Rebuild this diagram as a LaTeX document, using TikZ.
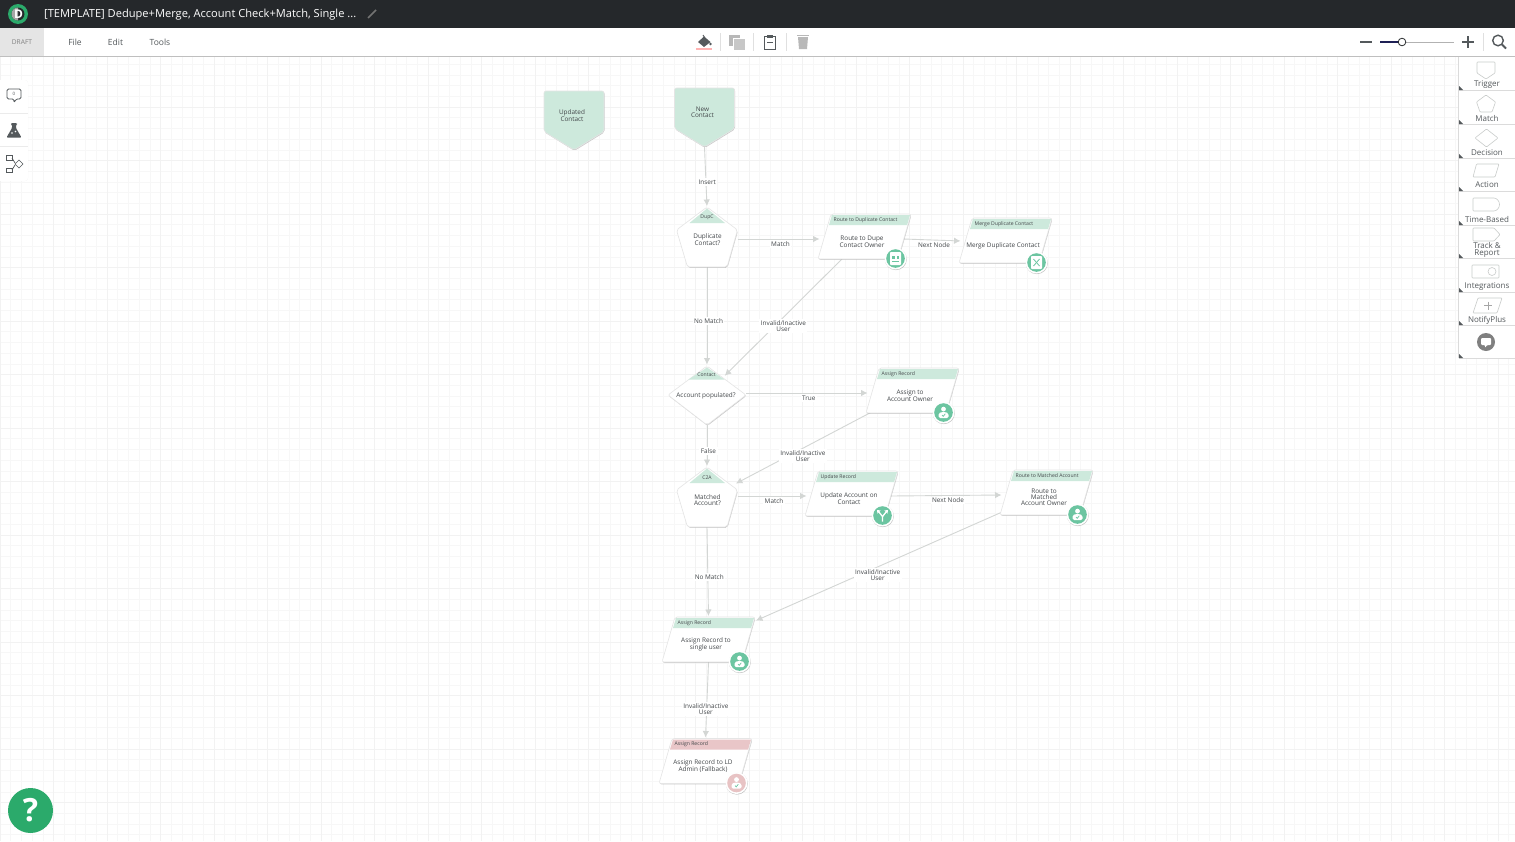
\documentclass[tikz,border=0pt]{standalone}
\usepackage{fontspec}
\setmainfont{Open Sans}
\usepackage{xcolor}
\usetikzlibrary{arrows.meta}
\usetikzlibrary{calc}
\usetikzlibrary{backgrounds}
\usetikzlibrary{shadows}
\definecolor{barcol}{HTML}{25282B}
\definecolor{txtcol}{HTML}{43474A}
\definecolor{linecol}{HTML}{D3D6D4}
\definecolor{headgreen}{HTML}{CDE9DC}
\definecolor{headpink}{HTML}{E9C6C8}
\definecolor{dotgreen}{HTML}{6CC5A1}
\definecolor{dotpink}{HTML}{E8C3C4}
\definecolor{palcol}{HTML}{C9CCCB}
\definecolor{iconcol}{HTML}{54595C}
\definecolor{helpcol}{HTML}{2BAA6B}
\tikzset{
  minorgrid/.style={color=black!3,line width=.5pt,step=10.7pt},
  majorgrid/.style={color=black!5,line width=.5pt,step=53.5pt},
  wfshape/.style={fill=white,draw=black!10,line width=.6pt,rounded corners=2pt,
    drop shadow={shadow xshift=.5pt,shadow yshift=-.8pt,opacity=.35,fill=black!60}},
  wfbox/.style={inner sep=0pt,outer sep=0pt},
  wftxt/.style={text=txtcol,align=center,inner sep=0pt,font=\fontsize{6.4}{6}\selectfont},
  wfhead/.style={text=txtcol,inner sep=0pt,font=\fontsize{5.1}{5}\selectfont},
  flow/.style={color=linecol,line width=.9pt,shorten >=1pt,-{Latex[length=6.5pt,width=6.5pt]}},
  flowlabel/.style={fill=white,text=txtcol,align=center,inner sep=1.5pt,xshift=1.5pt,yshift=-5pt,
    font=\fontsize{6.4}{6}\selectfont},
  menutxt/.style={text=iconcol,inner sep=0pt,font=\fontsize{8.5}{9}\selectfont},
  paltxt/.style={text=iconcol,align=center,inner sep=0pt,font=\fontsize{8}{7}\selectfont},
  palshape/.style={draw=palcol,fill=white,line width=.6pt,rounded corners=.8pt},
  palrule/.style={color=black!14,line width=.6pt},
}
% icons sit in the round badge of an action
\newcommand{\iconperson}{
\fill [white] (0,-3.4) circle (2.4);
\fill [white,rounded corners=1.5pt] (-5,5.5) -- (-5,.8) -- (-2,-.5) -- (2,-.5) -- (5,.8) -- (5,5.5) -- cycle;
\draw [color=dotgreen,line width=.7pt] (-1.5,2.5) -- (-.3,3.8) -- (1.8,1.3);
}
\newcommand{\iconsheet}{
\fill [white,rounded corners=.8pt] (-5.5,-6.5) rectangle (5.5,6.5);
\fill [color=dotgreen] (-3.5,-2.5) rectangle (-1,0);
\fill [color=dotgreen] (1,-2.5) rectangle (3.5,0);
\fill [color=dotgreen] (-3.5,2) rectangle (3.5,3);
}
\newcommand{\iconmerge}{
\fill [white,rounded corners=.8pt] (-5.5,-6.5) rectangle (5.5,6.5);
\draw [color=dotgreen,line width=.8pt] (-3,-3.5) -- (3,3.5);
\draw [color=dotgreen,line width=.8pt] (3,-3.5) -- (-3,3.5);
}
\newcommand{\iconsplit}{
\draw [white,line width=1.3pt] (0,6) -- (0,1) -- (-4,-4);
\draw [white,line width=1.3pt] (0,1) -- (4,-4);
\fill [white] (-5.5,-5.5) -- (-1.8,-5) -- (-5,-1.8) -- cycle;
\fill [white] (5.5,-5.5) -- (1.8,-5) -- (5,-1.8) -- cycle;
}
% name, x, y, header, body, header colour, badge colour, icon
\newcommand{\actionnode}[8]{
\begin{scope}[shift={(#2,#3)}]
\draw [wfshape] (-33.5,-22.5) -- (46.5,-22.5) -- (33.5,22.5) -- (-46.5,22.5) -- cycle;
\fill [color=#6] (-32.5,-21.5) -- (45.5,-21.5) -- (42.6,-11.5) -- (-35.5,-11.5) -- cycle;
\node [wfbox,minimum width=80pt,minimum height=45pt] (#1) at (0,0) {};
\node [wfhead,anchor=west] (#1-hd) at (-31,-16.5) {#4};
\node [wftxt] (#1-txt) at (-2.5,5) {#5};
\coordinate (#1-l) at (-44,2.5);
\coordinate (#1-r) at (39,2.5);
\coordinate (#1-in) at (46.5,-18.5);
\fill [white,drop shadow={shadow xshift=.3pt,shadow yshift=-.6pt,opacity=.4,fill=black!60}] (31,22) circle (11);
\fill [color=#7] (31,22) circle (9.3);
\begin{scope}[shift={(31,22)}]
#8
\end{scope}
\end{scope}
}
\newcommand{\matchnode}[5]{
\begin{scope}[shift={(#2,#3)}]
\draw [wfshape] (0,-30) -- (30.5,-7) -- (20,30) -- (-19.5,30) -- (-30.5,-7) -- cycle;
\fill [color=headgreen] (0,-28.5) -- (18,-14) -- (-17.5,-14) -- cycle;
\node [wfbox,minimum width=61pt,minimum height=60pt] (#1) at (0,0) {};
\node [wfhead] (#1-hd) at (0,-19.5) {#4};
\node [wftxt] (#1-txt) at (.5,3) {#5};
\coordinate (#1-in) at (28,-13);
\end{scope}
}
\newcommand{\decisionnode}[5]{
\begin{scope}[shift={(#2,#3)}]
\draw [wfshape] (0,-29) -- (39,0) -- (0,30) -- (-39,0) -- cycle;
\fill [color=headgreen] (0,-27.5) -- (17.5,-15.5) -- (-18.5,-15.5) -- cycle;
\node [wfbox,minimum width=78pt,minimum height=59pt] (#1) at (0,0) {};
\node [wfhead] (#1-hd) at (-.5,-20) {#4};
\node [wftxt] (#1-txt) at (-1,.5) {#5};
\coordinate (#1-in) at (17,-18.5);
\end{scope}
}
\newcommand{\triggernode}[4]{
\begin{scope}[shift={(#2,#3)}]
\draw [wfshape,fill=headgreen] (-30,-29.5) -- (30,-29.5) -- (30,11) -- (0,29.5) -- (-30,11) -- cycle;
\node [wfbox,minimum width=60pt,minimum height=59pt] (#1) at (0,0) {};
\node [wftxt] (#1-txt) at (-2,-5) {#4};
\end{scope}
}
\begin{document}
\begin{tikzpicture}[x=1pt,y=-1pt]
\useasboundingbox (0,0) rectangle (1515,841);

\triggernode{upc}{574}{120.5}{Updated\\Contact}
\triggernode{newc}{704.5}{117.5}{New\\Contact}
\matchnode{dupc}{707}{237}{DupC}{Duplicate\\Contact?}
\actionnode{rdc}{864.5}{236.5}{Route to Duplicate Contact}{Route to Dupe\\Contact Owner}{headgreen}{dotgreen}{\iconsheet}
\actionnode{mrg}{1005.5}{240.5}{Merge Duplicate Contact}{Merge Duplicate Contact}{headgreen}{dotgreen}{\iconmerge}
\decisionnode{con}{707}{395}{Contact}{Account populated?}
\actionnode{asn}{912.5}{390.5}{Assign Record}{Assign to\\Account Owner}{headgreen}{dotgreen}{\iconperson}
\matchnode{c2a}{707}{497}{C2A}{Matched\\Account?}
\actionnode{upd}{851.5}{493.5}{Update Record}{Update Account on\\Contact}{headgreen}{dotgreen}{\iconsplit}
\actionnode{rma}{1046.5}{492.5}{Route to Matched Account}{Route to\\Matched\\Account Owner}{headgreen}{dotgreen}{\iconperson}
\actionnode{asg}{708.5}{639.5}{Assign Record}{Assign Record to\\single user}{headgreen}{dotgreen}{\iconperson}
\actionnode{fbk}{705.5}{761}{Assign Record}{Assign Record to LD\\Admin (Fallback)}{headpink}{dotpink}{\iconperson}

\begin{scope}[on background layer]
\fill [white] (0,0) rectangle (1515,841);
\draw [minorgrid] (0,56) grid (1515,841);
\draw [majorgrid] (0,56) grid (1515,841);
\draw [flow] (newc.south) -- node [flowlabel] (l1) {Insert} (dupc.north);
\draw [flow] (dupc.east |- rdc-l) -- node [flowlabel] (l2) {Match} (rdc-l);
\draw [flow] (rdc-r) -- node [flowlabel] (l3) {Next Node} ([yshift=2pt]mrg-l);
\draw [flow] (dupc.south) -- node [flowlabel] (l4) {No Match} (con.north);
\draw [flow] (rdc) -- node [flowlabel,pos=.53,xshift=2.5pt] (l5) {Invalid/Inactive\\User} (con-in);
\draw [flow] (con.east |- asn-l) -- node [flowlabel] (l6) {True} (asn-l);
\draw [flow] (con.south) -- node [flowlabel] (l7) {False} (c2a.north);
\draw [flow] (asn) -- node [flowlabel,pos=.55,xshift=4.5pt] (l8) {Invalid/Inactive\\User} (c2a-in);
\draw [flow] (c2a.east |- upd-l) -- node [flowlabel] (l9) {Match} (upd-l);
\draw [flow] (upd-r) -- node [flowlabel] (l10) {Next Node} (rma-l);
\draw [flow] (c2a.south) -- node [flowlabel] (l11) {No Match} (asg.north);
\draw [flow] (rma) -- node [flowlabel,pos=.54,xshift=5.5pt] (l12) {Invalid/Inactive\\User} (asg-in);
\draw [flow] (asg.south) -- node [flowlabel,pos=.55,xshift=-2.5pt] (l13) {Invalid/Inactive\\User} (fbk.north);
\end{scope}

%% top bars
\fill [color=black!25] (0,56) rectangle (1515,57);
\fill [white] (0,28) rectangle (1515,56);
\fill [color=barcol] (0,0) rectangle (1515,28);
\fill [color=black!10] (0,28) rectangle (44,56);
\fill [color=helpcol] (18,14) circle (10);
\fill [color=barcol] (18,14) circle (6.5);
\fill [color=black!35] (18,20.5) arc (90:270:6.5) -- cycle;
\node [text=white,inner sep=0pt,font=\bfseries\fontsize{12}{12}\selectfont] (logo) at (18.5,14) {D};
\node [text=white,anchor=west,inner sep=0pt,font=\fontsize{11.1}{12}\selectfont] (title) at (44,14.5) {[TEMPLATE] Dedupe+Merge, Account Check+Match, Single ...};
\draw [color=black!55,line width=1.6pt] (368,18) -- (376,10);
\node [text=black!50,inner sep=0pt,font=\fontsize{6.6}{7}\selectfont] (draft) at (22,42) {DRAFT};
\node [menutxt] (mfile) at (75,42) {File};
\node [menutxt] (medit) at (115.5,42) {Edit};
\node [menutxt] (mtools) at (160,42) {Tools};

%% paint, copy, paste, delete
\draw [color=iconcol,line width=.9pt] (703,35) -- (705,38);
\fill [color=iconcol] (704,36.5) -- (710.5,42) -- (704,47) -- (698,42) -- cycle;
\fill [color=iconcol] (710.5,44) circle (1.3);
\fill [color=red!30] (696,48) rectangle (712,49.5);
\fill [color=black!28] (729,35) rectangle (740,46);
\fill [color=black!22,draw=white,line width=.5pt] (733,38) rectangle (745,50);
\draw [color=iconcol,line width=1pt] (764.5,36) rectangle (775.5,49);
\fill [color=iconcol] (767,34.5) rectangle (773,38);
\draw [color=iconcol,line width=.6pt] (767,42) -- (773,42);
\fill [color=black!28] (798,37) -- (808,37) -- (807,49) -- (799,49) -- cycle;
\fill [color=black!28] (797,34.5) rectangle (809,36);
\draw [color=black!12] (720,33) -- (720,51);
\draw [color=black!12] (753,33) -- (753,51);
\draw [color=black!12] (786,33) -- (786,51);

%% zoom slider
\draw [color=iconcol,line width=1.2pt] (1360,42) -- (1372,42);
\draw [color=black!30,line width=1pt] (1402,42) -- (1454,42);
\draw [color=barcol!80!blue,line width=1.3pt] (1380,42) -- (1398,42);
\draw [color=barcol,fill=white,line width=.8pt] (1402,42) circle (3.8);
\draw [color=iconcol,line width=1.2pt] (1462,42) -- (1474,42);
\draw [color=iconcol,line width=1.2pt] (1468,36) -- (1468,48);
\draw [color=black!12] (1483,33) -- (1483,51);
\draw [color=iconcol,line width=1.4pt] (1498,40.5) circle (5.3);
\draw [color=iconcol,line width=1.8pt] (1502,44.5) -- (1506,48.5);

%% left tools
\fill [white,rounded corners=3pt,drop shadow={shadow xshift=0pt,shadow yshift=0pt,opacity=.12}] (-4,80) rectangle (28,181);
\draw [color=black!8] (0,113) -- (28,113);
\draw [color=black!8] (0,146) -- (28,146);
\draw [color=iconcol,line width=.8pt,rounded corners=1.5pt] (7,89) -- (21,89) -- (21,99) -- (16,99) -- (14,103) -- (14,99) -- (7,99) -- cycle;
\node [text=iconcol,inner sep=0pt,font=\fontsize{4.5}{5}\selectfont] (note) at (14,94) {0};
\fill [color=iconcol,rounded corners=1pt] (11,123) -- (17,123) -- (17,124.5) -- (16,124.5) -- (16,128) -- (21.5,137.5) -- (6.5,137.5) -- (12,128) -- (12,124.5) -- (11,124.5) -- cycle;
\fill [white] (12,133) circle (.8);
\fill [white] (15.5,131.5) circle (.8);
\draw [color=iconcol,line width=.7pt] (6,155.5) rectangle (12,160);
\draw [color=iconcol,line width=.7pt] (6,168) rectangle (12,172);
\draw [color=iconcol,line width=.7pt] (19,160) -- (23,164) -- (19,168) -- (15,164) -- cycle;
\draw [color=iconcol,line width=.7pt] (12,158) -- (15,163);
\draw [color=iconcol,line width=.7pt] (12,170) -- (15,165);

%% palette
\fill [white] (1459,57) rectangle (1515,358);
\draw [palrule] (1458.5,57) -- (1458.5,358);
\draw [palrule] (1459,90.5) -- (1515,90.5);
\draw [palrule] (1459,124) -- (1515,124);
\draw [palrule] (1459,158) -- (1515,158);
\draw [palrule] (1459,191.5) -- (1515,191.5);
\draw [palrule] (1459,225) -- (1515,225);
\draw [palrule] (1459,258.5) -- (1515,258.5);
\draw [palrule] (1459,292) -- (1515,292);
\draw [palrule] (1459,325.5) -- (1515,325.5);
\draw [palrule] (1459,358.5) -- (1515,358.5);
\fill [color=iconcol] (1459,86) -- (1463,90) -- (1459,90) -- cycle;
\fill [color=iconcol] (1459,120) -- (1463,124) -- (1459,124) -- cycle;
\fill [color=iconcol] (1459,154) -- (1463,158) -- (1459,158) -- cycle;
\fill [color=iconcol] (1459,187) -- (1463,191) -- (1459,191) -- cycle;
\fill [color=iconcol] (1459,221) -- (1463,225) -- (1459,225) -- cycle;
\fill [color=iconcol] (1459,254) -- (1463,258) -- (1459,258) -- cycle;
\fill [color=iconcol] (1459,288) -- (1463,292) -- (1459,292) -- cycle;
\fill [color=iconcol] (1459,321) -- (1463,325) -- (1459,325) -- cycle;
\fill [color=iconcol] (1459,354) -- (1463,358) -- (1459,358) -- cycle;
\draw [palshape] (1477,62) -- (1495,62) -- (1495,73) -- (1486,79) -- (1477,73) -- cycle;
\draw [palshape] (1486,95) -- (1495.5,102) -- (1492,112) -- (1480,112) -- (1476.5,102) -- cycle;
\draw [palshape] (1486.5,129) -- (1498,138) -- (1486.5,147) -- (1475,138) -- cycle;
\draw [palshape] (1476.5,164) -- (1499,164) -- (1495,177) -- (1473,177) -- cycle;
\draw [palshape] (1473,198) -- (1493,198) arc (-90:90:6.5) -- (1473,211) -- cycle;
\draw [palshape] (1473,228) -- (1494,228) -- (1500,234.5) -- (1494,241) -- (1473,241) -- cycle;
\draw [palshape] (1472,265) rectangle (1499,278);
\draw [palshape] (1492,271.5) circle (4);
\draw [palshape] (1478,298) -- (1502,298) -- (1497,313) -- (1473,313) -- cycle;
\draw [color=black!35,line width=.5pt] (1484,305.5) -- (1492,305.5);
\draw [color=black!35,line width=.5pt] (1488,301.5) -- (1488,309.5);
\node [paltxt] (ptrig) at (1487,85) {Trigger};
\node [paltxt] (pmatch) at (1487,118) {Match};
\node [paltxt] (pdec) at (1487,152.5) {Decision};
\node [paltxt] (pact) at (1487,185) {Action};
\node [paltxt] (ptime) at (1487,219) {Time-Based};
\node [paltxt] (ptrack) at (1487,250) {Track \&\\Report};
\node [paltxt] (pint) at (1487,287) {Integrations};
\node [paltxt] (pnote) at (1487,320.5) {NotifyPlus};
\fill [color=black!50] (1486,342) circle (9);
\fill [white,rounded corners=1pt] (1481,338) -- (1491,338) -- (1491,345) -- (1487,345) -- (1485,348) -- (1485,345) -- (1481,345) -- cycle;

%% help
\fill [color=helpcol] (30.5,810.5) circle (22.5);
\node [text=white,inner sep=0pt,font=\bfseries\fontsize{32}{32}\selectfont] (help) at (30.5,810.5) {?};
\end{tikzpicture}
\end{document}
